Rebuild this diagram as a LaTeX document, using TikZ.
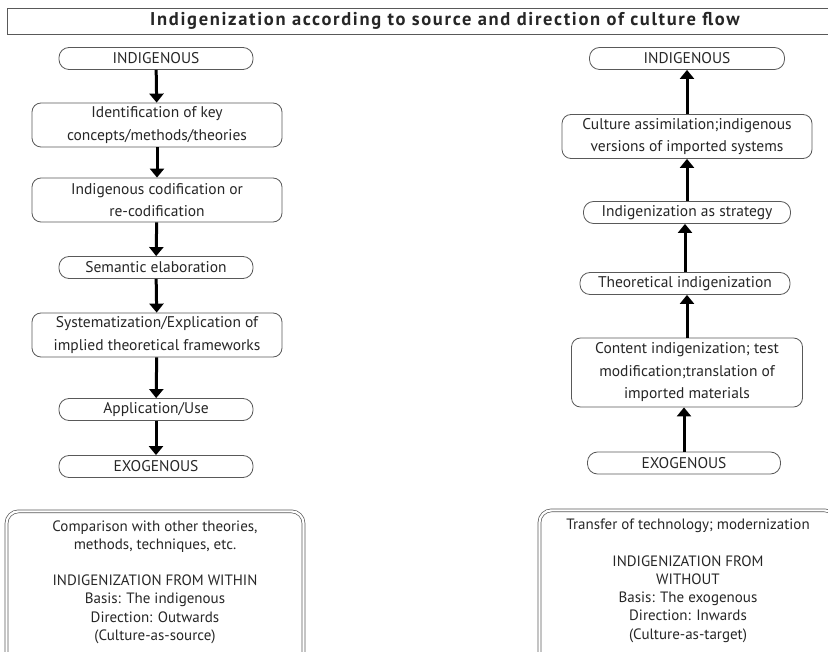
\documentclass[tikz,border=0pt]{standalone}
\usepackage{fontspec}
\setmainfont{PT Sans}
\newfontfamily\titlefont[LetterSpace=9]{PT Sans}
\usetikzlibrary{arrows.meta}

\begin{document}
\begin{tikzpicture}[x=1pt,y=-1pt,
  box/.style={draw=black!65,line width=0.8pt,rounded corners=9pt,align=center,inner sep=0pt,
    text=black!85,font=\fontsize{15.5}{22.5}\selectfont},
  pill/.style={box,minimum height=22pt,rounded corners=10pt},
  flow/.style={line width=3pt,-{Triangle[width=14pt,length=9pt]}},
  summary/.style={draw=black!65,line width=0.7pt,double,double distance=2.2pt,rounded corners=12pt,
    inner xsep=0pt,inner ysep=9pt,text=black!85,anchor=north}]
  \useasboundingbox (0,0) rectangle (828,652);
  \clip (0,0) rectangle (828,652);
  \node [draw=black!65,line width=0.8pt,minimum width=876pt,minimum height=26pt,inner sep=0pt,
    text=black!85,font=\titlefont\bfseries\fontsize{18.5}{20}\selectfont] (title) at (445,21)
    {Indigenization according to source and direction of culture flow};
  % from within
  \node [pill,minimum width=194pt] (lInd) at (156,58.5) {INDIGENOUS};
  \node [box,minimum width=250pt,minimum height=44pt] (lIdent) at (157,125) {Identification of key\\concepts/methods/theories};
  \node [box,minimum width=250pt,minimum height=44pt] (lCodif) at (157,200) {Indigenous codification or\\re-codification};
  \node [pill,minimum width=194pt] (lSem) at (156,267.5) {Semantic elaboration};
  \node [box,minimum width=250pt,minimum height=44pt] (lSyst) at (157,335) {Systematization/Explication of\\implied theoretical frameworks};
  \node [pill,minimum width=194pt] (lAppl) at (156,409.5) {Application/Use};
  \node [pill,minimum width=194pt] (lExo) at (156,466.5) {EXOGENOUS};
  \draw [flow] (lInd) -- (lIdent);
  \draw [flow] (lIdent) -- (lCodif);
  \draw [flow] (lCodif) -- (lSem);
  \draw [flow] (lSem) -- (lSyst);
  \draw [flow] (lSyst) -- (lAppl);
  \draw [flow] (lAppl) -- (lExo);
  % from without
  \node [pill,minimum width=195pt] (rInd) at (687,58.5) {INDIGENOUS};
  \node [box,minimum width=250pt,minimum height=44pt] (rAssim) at (687,136.5) {Culture assimilation;indigenous\\versions of imported systems};
  \node [pill,minimum width=207pt] (rStrat) at (687,212.5) {Indigenization as strategy};
  \node [pill,minimum width=210pt] (rTheo) at (685,283.5) {Theoretical indigenization};
  \node [box,minimum width=231pt,minimum height=69pt] (rCont) at (687,372.5) {Content indigenization; test\\modification;translation of\\imported materials};
  \node [pill,minimum width=193pt] (rExo) at (684,463) {EXOGENOUS};
  \draw [flow] (rExo) -- (rExo |- rCont.south);
  \draw [flow] (rCont) -- (rCont |- rTheo.south);
  \draw [flow] (rTheo) -- (rTheo |- rStrat.south);
  \draw [flow] (rStrat) -- (rAssim);
  \draw [flow] (rAssim) -- (rInd);
  % summaries
  \node [summary] (lSum) at (155,511) {\parbox[c][150pt][t]{297pt}{\centering\fontsize{15}{18.2}\selectfont
    Comparison with other theories,\\methods, techniques, etc.\\[18.2pt]INDIGENIZATION FROM WITHIN\\
    Basis: The indigenous\\Direction: Outwards\\(Culture-as-source)}};
  \node [summary] (rSum) at (688,510) {\parbox[c][150pt][t]{297pt}{\centering\fontsize{15}{18.2}\selectfont
    Transfer of technology; modernization\\[18.2pt]INDIGENIZATION FROM\\WITHOUT\\
    Basis: The exogenous\\Direction: Inwards\\(Culture-as-target)}};
\end{tikzpicture}
\end{document}
